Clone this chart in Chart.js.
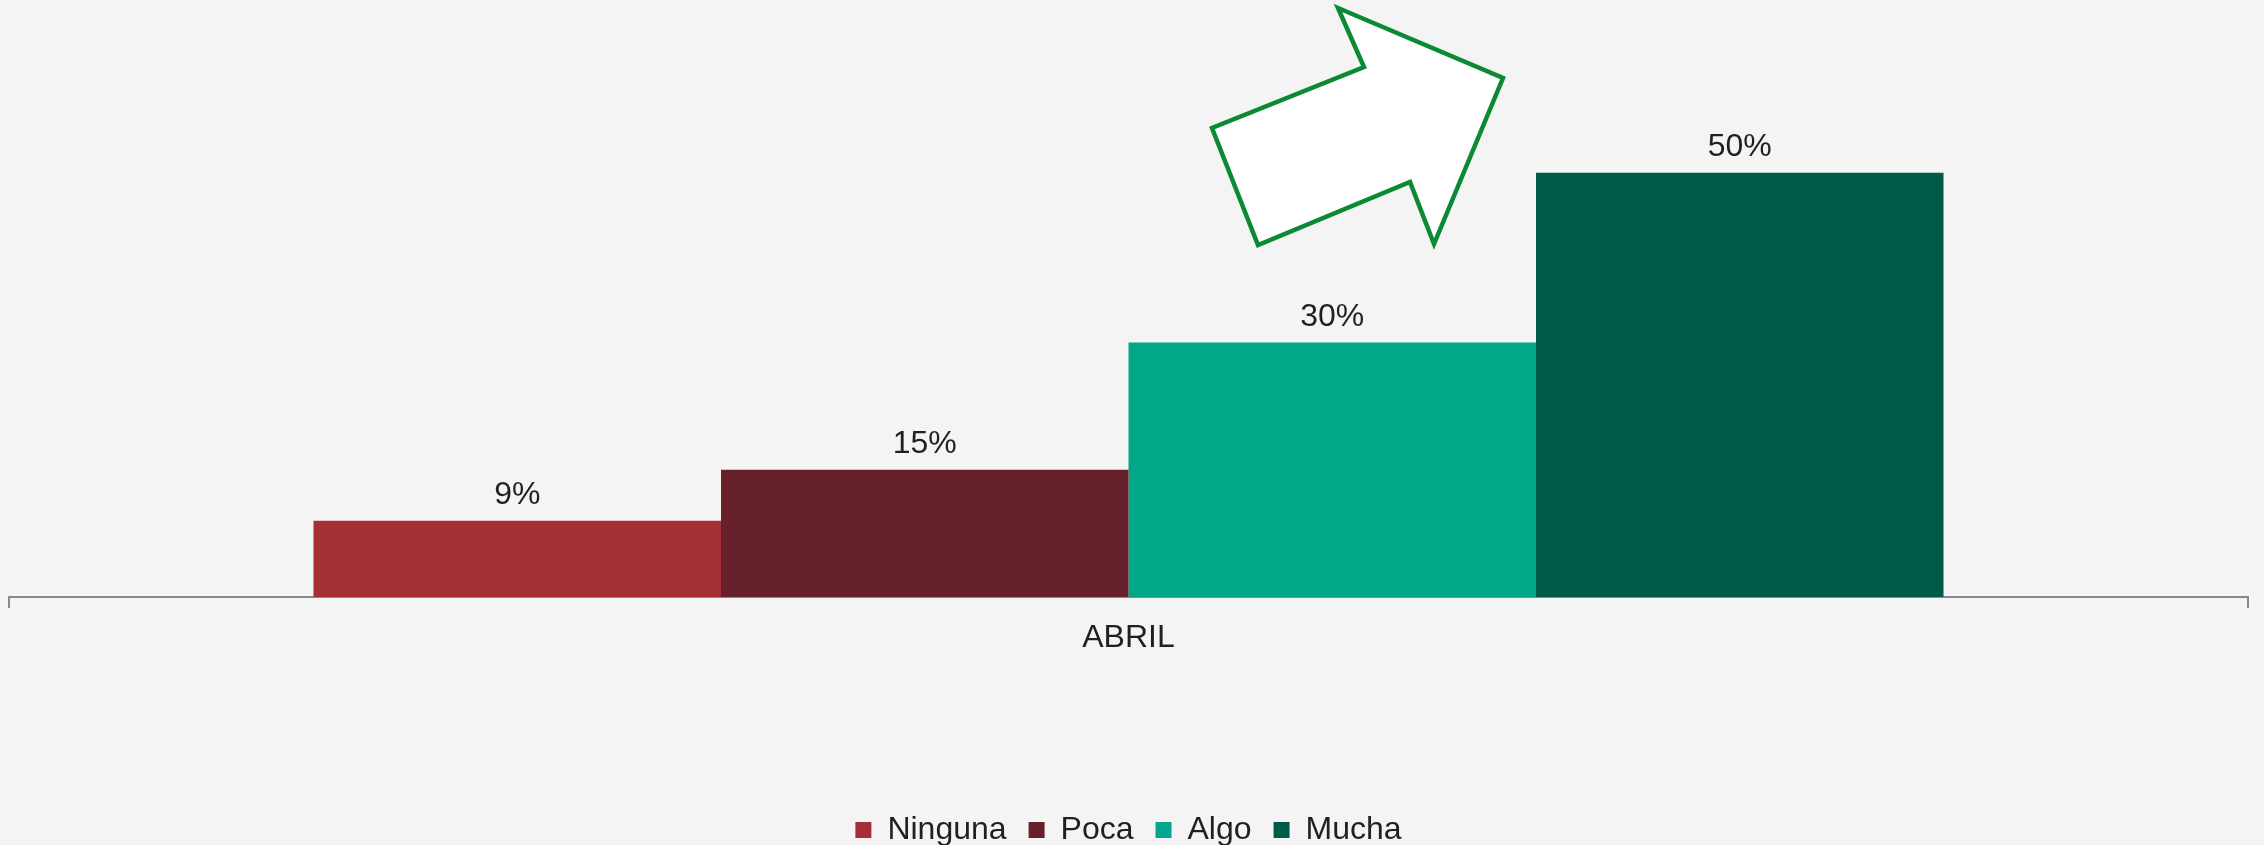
<!DOCTYPE html>
<html>
<head>
<meta charset="utf-8">
<script src="https://cdn.jsdelivr.net/npm/chart.js@4"></script>
<style>
  html, body { margin: 0; padding: 0; background: #f4f4f4; }
  #wrap { width: 2264px; height: 845px; }
</style>
</head>
<body>
<div id="wrap"><canvas id="chart"></canvas></div>
<script>
const categories = ['ABRIL'];
const seriesNames = ['Ninguna', 'Poca', 'Algo', 'Mucha'];
const ninguna = [9];
const poca = [15];
const algo = [30];
const mucha = [50];
const colors = ['#a33037', '#66202a', '#02a688', '#005a4a'];

// decorative arrow outline (pixels)
const arrowPts = [[1338, 8], [1503, 78], [1434, 244], [1410, 182], [1258, 245], [1212, 128], [1364, 67]];

Chart.defaults.font.family = '"Liberation Sans", Arial, sans-serif';
Chart.defaults.color = '#231f20';

const bg = {
  id: 'bg',
  beforeDraw(chart) {
    const c = chart.ctx;
    c.save();
    c.fillStyle = '#f4f4f4';
    c.fillRect(0, 0, chart.width, chart.height);
    c.restore();
  }
};

const valueLabels = {
  id: 'valueLabels',
  afterDatasetsDraw(chart) {
    const c = chart.ctx;
    c.save();
    c.font = '32px "Liberation Sans", Arial, sans-serif';
    c.fillStyle = '#231f20';
    c.textAlign = 'center';
    c.textBaseline = 'alphabetic';
    chart.data.datasets.forEach((ds, i) => {
      chart.getDatasetMeta(i).data.forEach((bar, j) => {
        c.fillText(ds.data[j] + '%', bar.x, bar.y - 17);
      });
    });
    c.restore();
  }
};

const arrow = {
  id: 'arrow',
  afterDraw(chart) {
    const c = chart.ctx;
    c.save();
    c.beginPath();
    arrowPts.forEach((p, i) => i ? c.lineTo(p[0], p[1]) : c.moveTo(p[0], p[1]));
    c.closePath();
    c.fillStyle = '#ffffff';
    c.fill();
    c.lineWidth = 4.5;
    c.lineJoin = 'miter';
    c.strokeStyle = '#0b8a35';
    c.stroke();
    c.restore();
  }
};

const series = [ninguna, poca, algo, mucha];

new Chart(document.getElementById('chart'), {
  type: 'bar',
  data: {
    labels: categories,
    datasets: seriesNames.map((name, i) => ({
      label: name,
      data: series[i],
      backgroundColor: colors[i],
      borderWidth: 0,
      categoryPercentage: 0.728,
      barPercentage: 1
    }))
  },
  options: {
    responsive: true,
    maintainAspectRatio: false,
    animation: false,
    layout: { padding: { top: 88, left: 9, right: 16, bottom: -11 } },
    scales: {
      x: {
        grid: {
          display: true,
          drawOnChartArea: false,
          drawTicks: true,
          tickLength: 11,
          color: '#898989',
          lineWidth: 2
        },
        border: { display: true, color: '#898989', width: 2 },
        ticks: { font: { size: 32 }, color: '#231f20', padding: 11 },
        afterFit(s) { s.height = 195; }
      },
      y: {
        display: false,
        min: 0,
        max: 60
      }
    },
    plugins: {
      legend: {
        position: 'bottom',
        labels: {
          font: { size: 32 },
          color: '#231f20',
          boxWidth: 16,
          boxHeight: 16,
          padding: 22
        }
      },
      tooltip: { enabled: false }
    }
  },
  plugins: [bg, valueLabels, arrow]
});
</script>
</body>
</html>
